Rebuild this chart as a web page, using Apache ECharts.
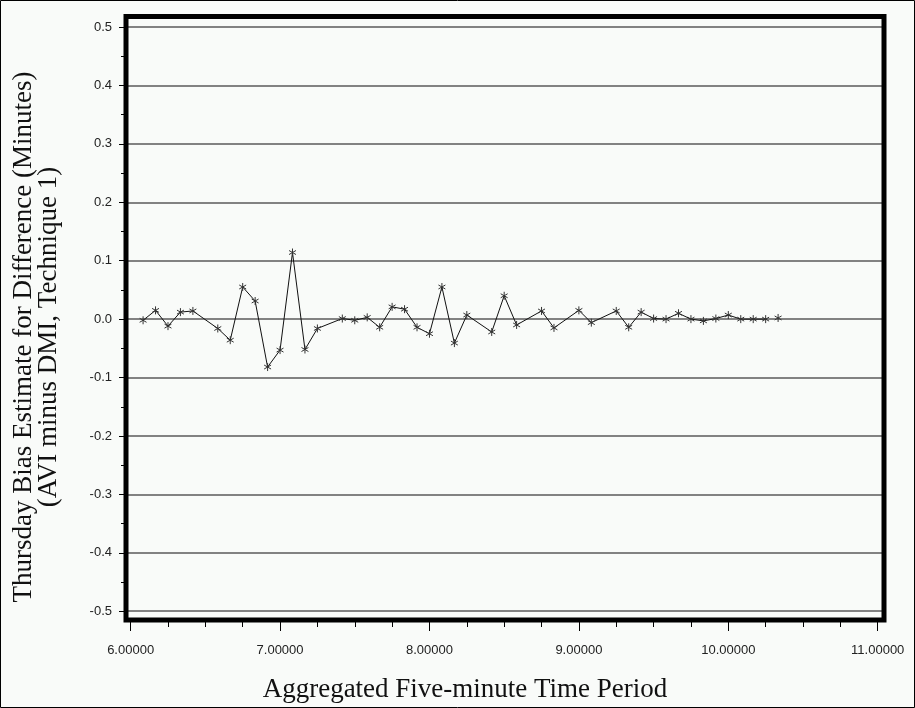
<!DOCTYPE html>
<html>
<head>
<meta charset="utf-8">
<script src="https://cdn.jsdelivr.net/npm/echarts@6/dist/echarts.min.js"></script>
<style>
html,body{margin:0;padding:0;background:#f9fbf9;}
#chart{width:915px;height:708px;}
</style>
</head>
<body>
<div id="chart"></div>
<script>
// Aggregated five-minute time period (decimal hours)
const periods = [6.0833, 6.1667, 6.25, 6.3333, 6.4167, 6.5833, 6.6667, 6.75, 6.8333, 6.9167,
  7.0, 7.0833, 7.1667, 7.25, 7.4167, 7.5, 7.5833, 7.6667, 7.75, 7.8333,
  7.9167, 8.0, 8.0833, 8.1667, 8.25, 8.4167, 8.5, 8.5833, 8.75, 8.8333,
  9.0, 9.0833, 9.25, 9.3333, 9.4167, 9.5, 9.5833, 9.6667, 9.75, 9.8333,
  9.9167, 10.0, 10.0833, 10.1667, 10.25];
// Thursday bias estimate (minutes)
const bias = [-0.002, 0.015, -0.012, 0.012, 0.014, -0.016, -0.036, 0.055, 0.031, -0.082,
  -0.053, 0.114, -0.052, -0.016, 0.001, -0.002, 0.003, -0.014, 0.021, 0.017,
  -0.014, -0.025, 0.055, -0.041, 0.007, -0.022, 0.040, -0.010, 0.014, -0.015,
  0.015, -0.006, 0.014, -0.014, 0.012, 0.001, 0.000, 0.010, 0.000, -0.003,
  0.001, 0.007, 0.000, 0.000, 0.000];
// isolated (unconnected) last period
const loosePeriods = [10.3333];
const looseBias = [0.002];

const xTickValues = [6, 7, 8, 9, 10, 11];
const xMinorTickValues = [6.25, 6.5, 6.75, 7.25, 7.5, 7.75, 8.25, 8.5, 8.75, 9.25, 9.5, 9.75, 10.25, 10.5, 10.75];
const yTickValues = [-0.5, -0.4, -0.3, -0.2, -0.1, 0, 0.1, 0.2, 0.3, 0.4, 0.5];
const yMinorTickValues = [-0.45, -0.35, -0.25, -0.15, -0.05, 0.05, 0.15, 0.25, 0.35, 0.45];

const xTitle = 'Aggregated Five-minute Time Period';
const yTitle = ['Thursday Bias Estimate for Difference (Minutes)', '(AVI minus DMI, Technique 1)'];

const chart = echarts.init(document.getElementById('chart'), null, {renderer: 'canvas'});
const labelFont = {fontFamily: 'Liberation Sans, Arial, sans-serif', fontSize: 13, color: '#222'};
const star = 'path://M5,0 L5,10 M0.67,2.5 L9.33,7.5 M0.67,7.5 L9.33,2.5';

const xMin = 5.969, xMax = 11.042, yMin = -0.515, yMax = 0.518;

chart.setOption({
  animation: false,
  backgroundColor: '#f9fbf9',
  grid: {left: 126, right: 31, top: 16.5, bottom: 88, show: true, borderColor: '#000', borderWidth: 5, backgroundColor: 'transparent', z: 10},
  xAxis: [{
    type: 'value', min: xMin, max: xMax, position: 'bottom',
    axisLine: {show: false, onZero: false},
    axisTick: {show: true, inside: false, length: 11, customValues: xTickValues, lineStyle: {color: '#000', width: 1}},
    axisLabel: Object.assign({customValues: xTickValues, margin: 24, formatter: v => Number(v).toFixed(5)}, labelFont),
    splitLine: {show: false}
  }, {
    type: 'value', min: xMin, max: xMax, position: 'bottom',
    axisLine: {show: false, onZero: false},
    axisTick: {show: true, inside: false, length: 7, customValues: xMinorTickValues, lineStyle: {color: '#000', width: 1}},
    axisLabel: {show: false},
    splitLine: {show: false}
  }],
  yAxis: [{
    type: 'value', min: yMin, max: yMax, position: 'left',
    axisLine: {show: false, onZero: false},
    axisTick: {show: true, inside: false, length: 7, customValues: yTickValues, lineStyle: {color: '#000', width: 1}},
    axisLabel: Object.assign({customValues: yTickValues, margin: 14, formatter: v => Number(v).toFixed(1)}, labelFont),
    splitLine: {show: true, lineStyle: {color: '#5a5a5a', width: 1.5}}
  }, {
    type: 'value', min: yMin, max: yMax, position: 'left',
    axisLine: {show: false, onZero: false},
    axisTick: {show: true, inside: false, length: 5, customValues: yMinorTickValues, lineStyle: {color: '#000', width: 1}},
    axisLabel: {show: false},
    splitLine: {show: false}
  }],
  series: [{
    type: 'line',
    data: periods.map((p, i) => [p, bias[i]]),
    showAllSymbol: true,
    symbol: star, symbolSize: 8, symbolKeepAspect: true,
    itemStyle: {color: '#333', borderColor: '#333', borderWidth: 1},
    lineStyle: {color: '#111', width: 1},
    z: 5
  }, {
    type: 'line',
    data: loosePeriods.map((p, i) => [p, looseBias[i]]),
    showAllSymbol: true,
    symbol: star, symbolSize: 8, symbolKeepAspect: true,
    itemStyle: {color: '#333', borderColor: '#333', borderWidth: 1},
    lineStyle: {color: '#111', width: 1},
    z: 5
  }],
  graphic: [{
    type: 'rect', silent: true, z: 100,
    shape: {x: 0.5, y: 0.5, width: 914, height: 707},
    style: {fill: 'none', stroke: '#000', lineWidth: 1}
  }, {
    type: 'text', silent: true, z: 100,
    x: 465, y: 690,
    style: {text: xTitle, fontFamily: 'Liberation Serif, Times New Roman, serif', fontSize: 27, fill: '#111', align: 'center', verticalAlign: 'middle'}
  }, {
    type: 'text', silent: true, z: 100,
    x: 36, y: 337, rotation: Math.PI / 2,
    style: {text: yTitle.join('\n'), fontFamily: 'Liberation Serif, Times New Roman, serif', fontSize: 27, lineHeight: 25, fill: '#111', align: 'center', verticalAlign: 'middle'}
  }]
});
</script>
</body>
</html>
